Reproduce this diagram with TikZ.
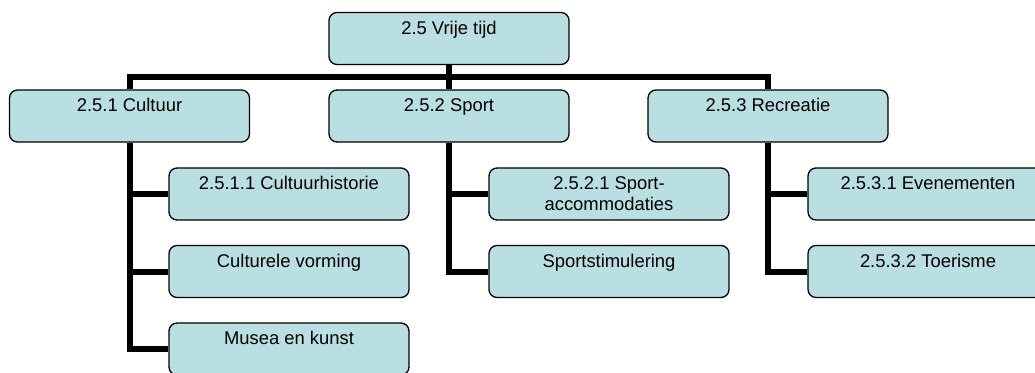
\documentclass[tikz,border=0pt]{standalone}
\usepackage{fontspec}
\setmainfont{Liberation Sans}
\definecolor{boxfill}{RGB}{185,223,226}
\newcommand{\boxlabel}[1]{\parbox[c][52pt][t]{236pt}{\centering\fontsize{18.4}{21}\selectfont\rule{0pt}{21.5pt}#1}}
\begin{document}
\begin{tikzpicture}[x=1pt,y=-1pt,
  box/.style={draw=black, line width=1.3pt, rounded corners=8pt, fill=boxfill,
    inner sep=0pt, minimum width=240pt, minimum height=52pt},
  link/.style={draw=black, line width=6pt}]
\useasboundingbox (0,0) rectangle (1035,372);
% root and first level
\node[box] (root) at (449,38.5) {\boxlabel{2.5 Vrije tijd}};
\node[box] (cult) at (129.5,116) {\boxlabel{2.5.1 Cultuur}};
\node[box] (sport) at (449,116) {\boxlabel{2.5.2 Sport}};
\node[box] (recr) at (768,116) {\boxlabel{2.5.3 Recreatie}};
% second level
\node[box] (c1) at (289,194) {\boxlabel{2.5.1.1 Cultuurhistorie}};
\node[box] (c2) at (289,271.5) {\boxlabel{Culturele vorming}};
\node[box] (c3) at (289,349) {\boxlabel{Musea en kunst}};
\node[box] (s1) at (609,194) {\boxlabel{2.5.2.1 Sport-\\accommodaties}};
\node[box] (s2) at (609,271.5) {\boxlabel{Sportstimulering}};
\node[box] (r1) at (928,194) {\boxlabel{2.5.3.1 Evenementen}};
\node[box] (r2) at (928,271.5) {\boxlabel{2.5.3.2 Toerisme}};
% connectors
\coordinate (bar) at (449,77);
\draw[link] (root.south) -- (bar);
\draw[link] (cult.north) |- (bar) -| (recr.north);
\draw[link] (sport.north) -- (bar);
\draw[link] (cult.south) |- (c1.west);
\draw[link] (cult.south) |- (c2.west);
\draw[link] (cult.south) |- (c3.west);
\draw[link] (sport.south) |- (s1.west);
\draw[link] (sport.south) |- (s2.west);
\draw[link] (recr.south) |- (r1.west);
\draw[link] (recr.south) |- (r2.west);
\end{tikzpicture}
\end{document}
